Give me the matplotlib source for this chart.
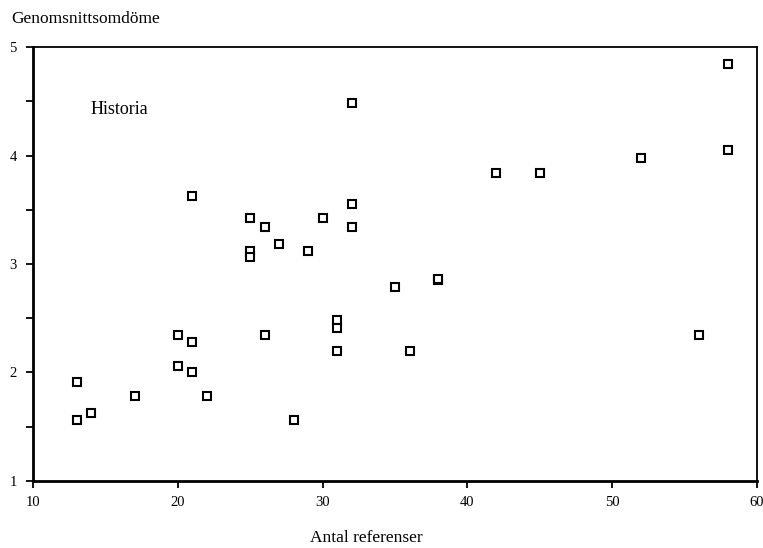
import matplotlib.pyplot as plt
from matplotlib.ticker import MultipleLocator

# Historia: antal referenser vs genomsnittsomdöme
antal_ref = [13, 13, 14, 17, 20, 20, 21, 21, 22, 21,
             25, 25, 25, 26, 27, 26, 28, 29, 30, 32,
             32, 32, 31, 31, 31, 35, 38, 38, 36, 42,
             45, 52, 58, 58, 56]
omdome = [1.56, 1.91, 1.63, 1.78, 2.35, 2.06, 2.28, 2.00, 1.78, 3.63,
          3.42, 3.12, 3.06, 3.34, 3.18, 2.35, 1.56, 3.12, 3.42, 4.48,
          3.55, 3.34, 2.48, 2.41, 2.20, 2.79, 2.85, 2.86, 2.20, 3.84,
          3.84, 3.98, 4.05, 4.84, 2.35]

plt.rcParams['font.family'] = 'Liberation Serif'

fig = plt.figure(figsize=(7.63, 5.48), dpi=100)
ax = fig.add_axes([0.0436, 0.1223, 0.9484, 0.7919])

ax.plot(antal_ref, omdome, linestyle='none', marker='s', markersize=5.6,
        markerfacecolor='white', markeredgecolor='black', markeredgewidth=1.5)

ax.set_xlim(10, 60)
ax.set_ylim(1, 5)
ax.xaxis.set_major_locator(MultipleLocator(10))
ax.yaxis.set_major_locator(MultipleLocator(1))
ax.yaxis.set_minor_locator(MultipleLocator(0.5))

for side in ['left', 'bottom']:
    ax.spines[side].set_linewidth(2)
for side in ['top', 'right']:
    ax.spines[side].set_linewidth(1.3)

ax.tick_params(axis='both', which='both', direction='out', length=5, width=1.3,
               labelsize=10.5)
ax.tick_params(axis='x', which='major', pad=6)
ax.tick_params(axis='y', which='major', pad=7)

ax.text(0.079, 0.857, 'Historia', transform=ax.transAxes, fontsize=13,
        va='center')
fig.text(0.015, 0.965, 'Genomsnittsomdöme', fontsize=12.5, va='center')
fig.text(0.480, 0.019, 'Antal referenser', fontsize=12.5, ha='center', va='center')

fig.savefig('out.png', dpi=100)
